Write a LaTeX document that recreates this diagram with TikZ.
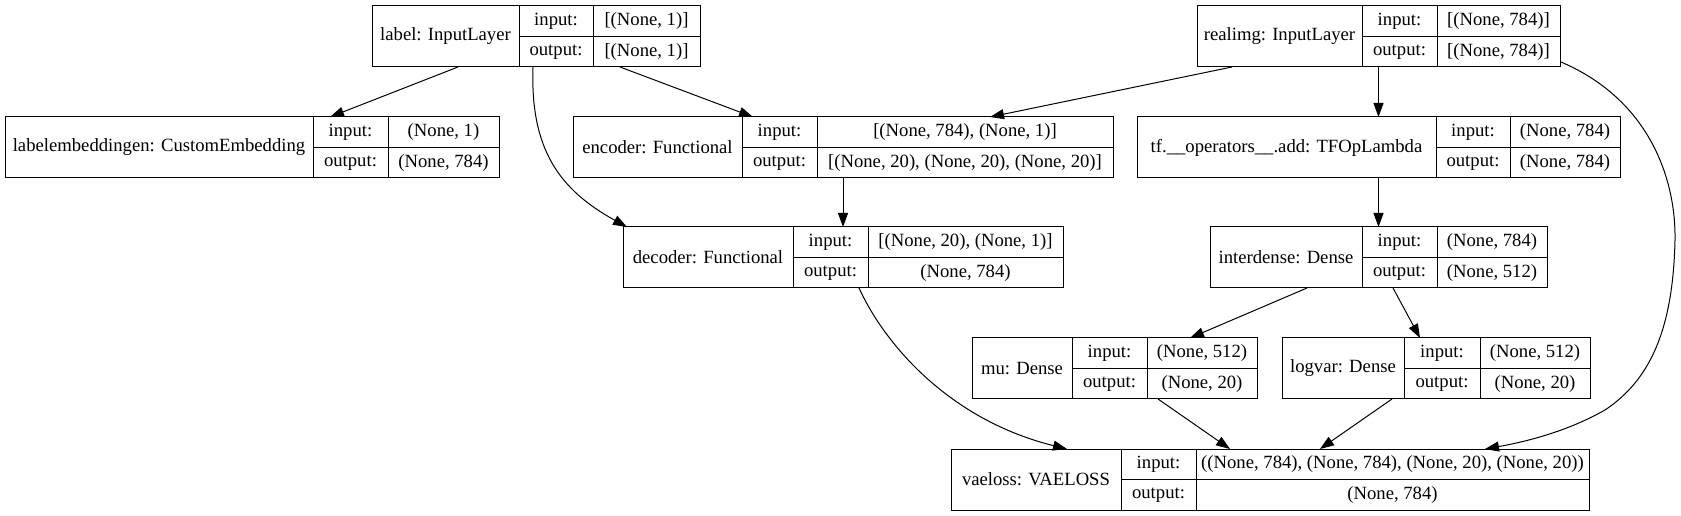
\documentclass[tikz,border=0pt]{standalone}
\usepackage{fontspec}
\setmainfont{Liberation Serif}
\usetikzlibrary{calc}
\usetikzlibrary{arrows.meta}
\tikzstyle{box}=[draw,rectangle,inner sep=0pt,outer sep=0pt,minimum height=45.75pt]
\tikzstyle{txt}=[inner sep=0pt,font=\rmfamily\fontsize{14}{16}\selectfont]
% one keras layer: name, left, top, rule 1, rule 2, right, title, input, output
\newcommand{\layer}[9]{%
	\node[box,minimum width={(#6-#2)*0.75pt},anchor=north west] (#1) at (#2,#3) {};
	\draw[-] (#4,#3) -- (#4,#3+61) (#5,#3) -- (#5,#3+61) (#4,#3+30.5) -- (#6,#3+30.5);
	\node[txt] (#1t) at ({(#2+#4)/2},#3+30.5) {#7};
	\node[txt] (#1i) at ({(#4+#5)/2},#3+15.25) {input:};
	\node[txt] (#1o) at ({(#4+#5)/2},#3+45.75) {output:};
	\node[txt] (#1iv) at ({(#5+#6)/2},#3+15.25) {#8};
	\node[txt] (#1ov) at ({(#5+#6)/2},#3+45.75) {#9};
}

\begin{document}
\begin{tikzpicture}[->,>={Triangle[length=10.5pt,width=7.5pt]},x=0.75pt,y=-0.75pt,line width=0.75pt]
	\useasboundingbox (0,0) rectangle (1681,516);
	\layer{lab}{372}{6}{519}{593}{700}{label: InputLayer}{[(None, 1)]}{[(None, 1)]}
	\layer{img}{1197}{6}{1362}{1437}{1560}{realimg: InputLayer}{[(None, 784)]}{[(None, 784)]}
	\layer{emb}{5}{117}{313}{388}{499}{labelembeddingen: CustomEmbedding}{(None, 1)}{(None, 784)}
	\layer{enc}{573}{117}{742}{817}{1113}{encoder: Functional}{[(None, 784), (None, 1)]}{[(None, 20), (None, 20), (None, 20)]}
	\layer{add}{1137}{117}{1436}{1510}{1620}{tf.\_\_operators\_\_.add: TFOpLambda}{(None, 784)}{(None, 784)}
	\layer{dec}{623}{227}{793}{868}{1063}{decoder: Functional}{[(None, 20), (None, 1)]}{(None, 784)}
	\layer{dns}{1210}{227}{1362}{1437}{1547}{interdense: Dense}{(None, 784)}{(None, 512)}
	\layer{mu}{972}{338}{1072}{1147}{1257}{mu: Dense}{(None, 512)}{(None, 20)}
	\layer{lv}{1282}{338}{1404}{1480}{1590}{logvar: Dense}{(None, 512)}{(None, 20)}
	\layer{vl}{951}{449}{1121}{1196}{1589}{vaeloss: VAELOSS}{((None, 784), (None, 784), (None, 20), (None, 20))}{(None, 784)}
	\path
		($(lab.south)+(-78,0)$)	edge[]	($(emb.north)+(78,0)$)
		($(lab.south)+(84,0)$)	edge[]	($(enc.north)+(-90,0)$)
		($(img.south)+(-146.5,0)$)	edge[]	($(enc.north)+(147,0)$)
		(img.south)	edge[]	(add.north)
		(enc.south)	edge[]	(dec.north)
		(add.south)	edge[]	(dns.north)
		($(dns.south)+(-71.5,0)$)	edge[]	($(mu.north)+(75.5,0)$)
		($(dns.south)+(14.5,0)$)	edge[]	($(lv.north)+(-16,0)$)
		($(mu.south)+(43.5,0)$)	edge[]	($(vl.north)+(-40,0)$)
		($(lv.south)+(-44,0)$)	edge[]	($(vl.north)+(50,0)$);
	\draw ($(lab.south)+(-3,0)$) .. controls +(-3,83) and +(-67,-37) .. ($(dec.north west)+(4,0)$);
	\draw ($(dec.south)+(16,0)$) .. controls +(26,57) and +(-117,-29) .. ($(vl.north)+(-203,0)$);
	\draw ($(img.south east)+(1,-5)$) .. controls +(89,38) and +(1,-60) .. (1675,240)
		.. controls +(-2,90) and +(45,-30) .. (1605,410)
		.. controls +(-35,20) and +(45,-8) .. ($(vl.north)+(215,0)$);
\end{tikzpicture}
\end{document}
